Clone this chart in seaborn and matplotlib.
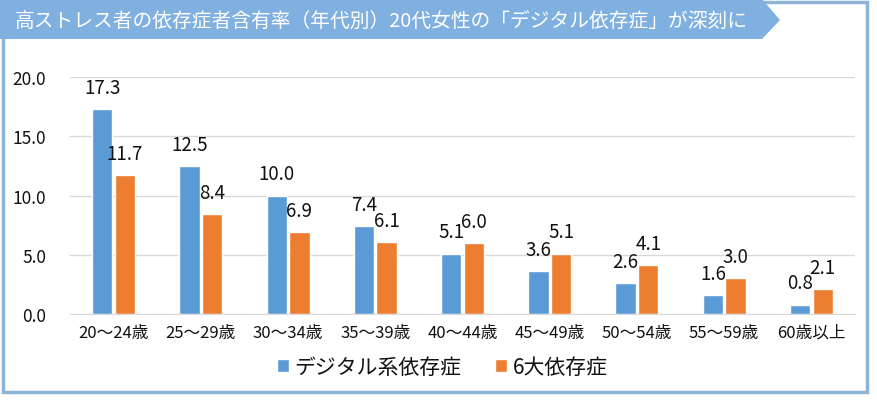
import numpy as np
import pandas as pd
import matplotlib as mpl
mpl.use("Agg")
import matplotlib.pyplot as plt
from matplotlib.patches import Polygon, Rectangle
import seaborn as sns

sns.set_style("white")
plt.rcParams['font.family'] = ['Noto Sans CJK JP', 'DejaVu Sans']

ages = ["20～24歳", "25～29歳", "30～34歳", "35～39歳", "40～44歳",
        "45～49歳", "50～54歳", "55～59歳", "60歳以上"]
digital = [17.3, 12.5, 10.0, 7.4, 5.1, 3.6, 2.6, 1.6, 0.8]
six_major = [11.7, 8.4, 6.9, 6.1, 6.0, 5.1, 4.1, 3.0, 2.1]
series = ["デジタル系依存症", "6大依存症"]
title = "高ストレス者の依存症者含有率（年代別）20代女性の「デジタル依存症」が深刻に"

df = pd.DataFrame({
    "age": ages * 2,
    "value": digital + six_major,
    "series": [series[0]] * len(ages) + [series[1]] * len(ages),
})

W, H = 878, 406
fig = plt.figure(figsize=(W / 100, H / 100), dpi=100)

# outer frame and title banner
fig.patches.append(Rectangle((2.5 / W, 1 - 393 / H), 865 / W, 390 / H,
                             transform=fig.transFigure, fill=False,
                             edgecolor="#8EB4D6", linewidth=2.5))
banner = [(0, 1), (762 / W, 1), (780 / W, 1 - 21 / H), (762 / W, 1 - 40 / H), (0, 1 - 40 / H)]
fig.patches.append(Polygon(banner, closed=True, transform=fig.transFigure,
                           facecolor="#7FB0E0", edgecolor="none"))
fig.text(15 / W, 1 - 21 / H, title, color="white", fontsize=14.2,
         ha="left", va="center")

ax = fig.add_axes([70 / W, 1 - 315 / H, 785 / W, 237 / H])
sns.barplot(data=df, x="age", y="value", hue="series", hue_order=series,
            palette=["#5B9BD5", "#ED7D31"], width=0.52, gap=0.1,
            saturation=1, ax=ax, errorbar=None)

for c in ax.containers:
    ax.bar_label(c, fmt="%.1f", padding=8, fontsize=13.5, color="#111111", clip_on=False)

ax.set_ylim(0, 20)
ax.set_yticks(np.arange(0, 21, 5))
ax.set_yticklabels([f"{v:.1f}" for v in np.arange(0, 21, 5)])
ax.set_xlim(-0.5, len(ages) - 0.5)
ax.set_xlabel("")
ax.set_ylabel("")
ax.grid(axis="y", color="#D9D9D9", linewidth=1)
ax.set_axisbelow(True)
for s in ["top", "right", "left"]:
    ax.spines[s].set_visible(False)
ax.spines["bottom"].set_color("#D9D9D9")
ax.tick_params(axis="y", length=0, pad=17, labelsize=12.5, labelcolor="#111111")
ax.tick_params(axis="x", length=0, pad=7, labelsize=12, labelcolor="#111111")

handles, labels = ax.get_legend_handles_labels()
ax.legend_.remove()
fig.legend(handles, labels, loc="center", bbox_to_anchor=(442 / W, 1 - 368 / H),
           ncol=2, frameon=False, fontsize=15, handlelength=0.6, handleheight=0.6,
           handletextpad=0.25, columnspacing=1.6, labelcolor="#111111")

fig.savefig("out.png", dpi=100)
